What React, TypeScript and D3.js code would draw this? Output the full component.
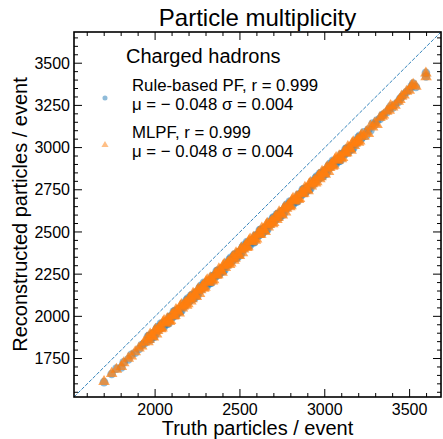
import React from "react";
import * as d3 from "d3";

// events: truth multiplicity, rule-based PF reco, MLPF reco
const truthCounts = [
  1699, 1744, 1772, 1801, 1815, 1842, 1860, 1883, 1905, 1921, 1935,
  1952, 1965, 1977, 1990, 2003, 2015, 2028, 2041, 2053, 2066, 2079, 2091, 2104, 2117, 2129, 2142, 2155, 2167, 2180, 2193,
  2205, 2218, 2231, 2243, 2256, 2269, 2281, 2294, 2307, 2319, 2332, 2345, 2357, 2370, 2383, 2395, 2408, 2421, 2433, 2446,
  2459, 2471, 2484, 2497, 2509, 2522, 2535, 2547, 2560, 2573, 2585, 2598, 2611, 2623, 2636, 2649, 2661, 2674, 2687, 2699,
  2712, 2725, 2737, 2750, 2763, 2775, 2788, 2801, 2813, 2826, 2839, 2851, 2864, 2877, 2889, 2902, 2915, 2927, 2940, 2953,
  2965, 2978, 2991, 3003, 3016, 3029, 3041, 3054, 3067, 3079, 3092, 3105, 3117, 3130, 3143, 3155, 3168, 3181, 3193, 3206,
  3219, 3231, 3244, 3257, 3269, 3282, 3295, 3308,
  3325, 3338, 3346, 3365, 3380, 3388, 3400, 3414, 3433, 3443, 3453, 3467, 3482, 3498, 3512, 3521, 3537, 3596, 3597,
  1958, 1971, 1983, 1996, 2009, 2021, 2034, 2047, 2059, 2072, 2085, 2097, 2110, 2123, 2135, 2148, 2161, 2173, 2186, 2199,
  2211, 2224, 2237, 2249, 2262, 2275, 2287, 2300, 2313, 2325, 2338, 2351, 2363, 2376, 2389, 2401, 2414, 2427, 2439, 2452,
  2465, 2477, 2490, 2503, 2515, 2528, 2541, 2553, 2566, 2579, 2591, 2604, 2617, 2629, 2642, 2655, 2667, 2680, 2693, 2705,
  2718, 2731, 2743, 2756, 2769, 2781, 2794, 2807, 2819, 2832, 2845, 2857, 2870, 2883, 2895, 2908, 2921, 2933, 2946, 2959,
  2971, 2984, 2997, 3009, 3022, 3035, 3047, 3060, 3073, 3085, 3098, 3111, 3123, 3136, 3149, 3161, 3174, 3187, 3199, 3212,
];
const pfCounts = [
  1610, 1658, 1690, 1697, 1728, 1745, 1772, 1784, 1806, 1830, 1838,
  1853, 1885, 1865, 1900, 1897, 1937, 1930, 1954, 1939, 1970, 1958, 2000, 1996, 2031, 2015, 2041, 2033, 2076, 2071, 2106,
  2094, 2126, 2107, 2141, 2138, 2179, 2171, 2195, 2181, 2211, 2199, 2241, 2237, 2272, 2257, 2282, 2273, 2318, 2312, 2347,
  2336, 2366, 2348, 2383, 2379, 2420, 2412, 2436, 2422, 2452, 2440, 2482, 2479, 2513, 2497, 2524, 2514, 2559, 2554, 2587,
  2577, 2608, 2589, 2624, 2620, 2661, 2653, 2678, 2663, 2693, 2682, 2723, 2720, 2755, 2738, 2765, 2756, 2800, 2795, 2829,
  2818, 2849, 2830, 2865, 2861, 2903, 2894, 2918, 2905, 2934, 2923, 2965, 2960, 2996, 2980, 3006, 2997, 3041, 3036, 3070,
  3059, 3090, 3071, 3107, 3102, 3143, 3136, 3160,
  3170, 3190, 3196, 3210, 3226, 3244, 3236, 3255, 3270, 3288, 3300, 3314, 3329, 3343, 3363, 3379, 3359, 3443, 3421,
  1881, 1865, 1897, 1880, 1926, 1918, 1958, 1940, 1965, 1957, 1996, 1994, 2028, 2007, 2040, 2027, 2060, 2058, 2096, 2086,
  2122, 2106, 2139, 2121, 2167, 2160, 2199, 2181, 2207, 2198, 2237, 2235, 2269, 2248, 2282, 2268, 2300, 2300, 2337, 2327,
  2364, 2346, 2380, 2363, 2408, 2401, 2440, 2422, 2448, 2439, 2478, 2476, 2511, 2489, 2522, 2510, 2541, 2541, 2579, 2567,
  2605, 2588, 2621, 2604, 2649, 2642, 2681, 2664, 2689, 2680, 2720, 2717, 2752, 2731, 2763, 2751, 2783, 2782, 2820, 2809,
  2846, 2829, 2862, 2845, 2890, 2884, 2922, 2904, 2931, 2921, 2961, 2959, 2992, 2972, 3005, 2992, 3024, 3023, 3061, 3050,
];
const mlpfCounts = [
  1613, 1661, 1686, 1702, 1724, 1750, 1764, 1789, 1812, 1823, 1846,
  1870, 1862, 1886, 1876, 1922, 1915, 1939, 1930, 1974, 1961, 1980, 1975, 2013, 2004, 2032, 2019, 2069, 2061, 2082, 2074,
  2111, 2103, 2128, 2117, 2163, 2157, 2180, 2171, 2216, 2202, 2221, 2216, 2254, 2245, 2274, 2260, 2309, 2303, 2323, 2315,
  2353, 2343, 2369, 2359, 2404, 2398, 2421, 2412, 2457, 2443, 2462, 2457, 2496, 2486, 2514, 2502, 2550, 2544, 2565, 2555,
  2594, 2585, 2610, 2600, 2645, 2639, 2662, 2654, 2698, 2684, 2704, 2698, 2737, 2728, 2755, 2743, 2792, 2785, 2806, 2797,
  2835, 2826, 2851, 2841, 2886, 2881, 2903, 2894, 2940, 2925, 2945, 2940, 2977, 2969, 2997, 2984, 3033, 3026, 3047, 3038,
  3076, 3067, 3092, 3083, 3127, 3121, 3145, 3136,
  3177, 3185, 3192, 3215, 3221, 3248, 3240, 3250, 3274, 3284, 3304, 3310, 3333, 3339, 3367, 3375, 3363, 3441, 3419,
  1849, 1895, 1881, 1911, 1894, 1930, 1925, 1965, 1958, 1986, 1968, 2006, 2001, 2040, 2029, 2059, 2048, 2072, 2065, 2102,
  2090, 2136, 2123, 2152, 2135, 2172, 2166, 2206, 2200, 2227, 2209, 2247, 2242, 2281, 2271, 2300, 2288, 2314, 2306, 2343,
  2332, 2376, 2364, 2394, 2376, 2413, 2407, 2447, 2441, 2468, 2450, 2488, 2484, 2522, 2511, 2542, 2529, 2555, 2548, 2583,
  2573, 2618, 2605, 2635, 2617, 2654, 2648, 2689, 2682, 2709, 2692, 2729, 2725, 2764, 2752, 2783, 2771, 2796, 2789, 2825,
  2814, 2859, 2846, 2876, 2858, 2896, 2889, 2929, 2924, 2950, 2933, 2971, 2965, 3005, 2994, 3024, 3012, 3037, 3030, 3066,
];

const xTicks = [2000, 2500, 3000, 3500];
const yTicks = [1750, 2000, 2250, 2500, 2750, 3000, 3250, 3500];
const axisRange = [1522, 3685];

const title = "Particle multiplicity";
const xLabel = "Truth particles / event";
const yLabel = "Reconstructed particles / event";
const legendTitle = "Charged hadrons";
const legendLines = [
  ["Rule-based PF, r = 0.999", "μ = − 0.048 σ = 0.004"],
  ["MLPF, r = 0.999", "μ = − 0.048 σ = 0.004"],
];

const BLUE = "#1f77b4";
const ORANGE = "#ff7f0e";
const FONT = "'Liberation Sans', Arial, Helvetica, sans-serif";

export default function App() {
  const W = 443, H = 439;
  const left = 74, top = 32, right = 441, bottom = 397;

  const x = d3.scaleLinear().domain(axisRange).range([left, right]);
  const y = d3.scaleLinear().domain(axisRange).range([bottom, top]);

  const xMinor = d3.range(1600, 3700, 100).filter(v => v % 500 !== 0);
  const yMinor = d3.range(1550, 3700, 50).filter(v => v % 250 !== 0);

  const circle = d3.symbol(d3.symbolCircle, 58)();
  const tri = d3.symbol(d3.symbolTriangle, 58)();
  const legCircle = d3.symbol(d3.symbolCircle, 20)();
  const legTri = d3.symbol(d3.symbolTriangle, 22)();

  const tickStroke = { stroke: "#000", strokeWidth: 1 };

  return (
    <svg width={W} height={H} style={{ position: "absolute", left: 0, top: 0, background: "#fff" }} fontFamily={FONT}>
      <defs>
        <clipPath id="plot">
          <rect x={left} y={top} width={right - left} height={bottom - top} />
        </clipPath>
      </defs>
      <rect width={W} height={H} fill="#fff" />

      <g clipPath="url(#plot)">
        <line x1={x(axisRange[0])} y1={y(axisRange[0])} x2={x(axisRange[1])} y2={y(axisRange[1])}
          stroke={BLUE} strokeWidth={1} strokeDasharray="3.7 1.6" opacity={0.9} />
        {truthCounts.map((t, i) => (
          <path key={"pf" + i} d={circle} transform={`translate(${x(t)},${y(pfCounts[i])})`} fill={BLUE} fillOpacity={0.5} />
        ))}
        {truthCounts.map((t, i) => (
          <path key={"ml" + i} d={tri} transform={`translate(${x(t)},${y(mlpfCounts[i])})`} fill={ORANGE} fillOpacity={0.7} />
        ))}
      </g>

      {/* ticks on all four sides, pointing in */}
      {xTicks.map(v => (
        <g key={"xt" + v}>
          <line x1={x(v)} x2={x(v)} y1={bottom} y2={bottom - 8} {...tickStroke} />
          <line x1={x(v)} x2={x(v)} y1={top} y2={top + 8} {...tickStroke} />
          <text x={x(v)} y={415} fontSize={16} textAnchor="middle">{v}</text>
        </g>
      ))}
      {xMinor.map(v => (
        <g key={"xm" + v}>
          <line x1={x(v)} x2={x(v)} y1={bottom} y2={bottom - 4} {...tickStroke} />
          <line x1={x(v)} x2={x(v)} y1={top} y2={top + 4} {...tickStroke} />
        </g>
      ))}
      {yTicks.map(v => (
        <g key={"yt" + v}>
          <line x1={left} x2={left + 8} y1={y(v)} y2={y(v)} {...tickStroke} />
          <line x1={right} x2={right - 8} y1={y(v)} y2={y(v)} {...tickStroke} />
          <text x={70} y={y(v)} dy="0.35em" fontSize={16} textAnchor="end">{v}</text>
        </g>
      ))}
      {yMinor.map(v => (
        <g key={"ym" + v}>
          <line x1={left} x2={left + 4} y1={y(v)} y2={y(v)} {...tickStroke} />
          <line x1={right} x2={right - 4} y1={y(v)} y2={y(v)} {...tickStroke} />
        </g>
      ))}

      <rect x={left} y={top} width={right - left} height={bottom - top} fill="none" stroke="#000" strokeWidth={1.6} />

      {/* legend */}
      <text x={126} y={63} fontSize={20}>{legendTitle}</text>
      <path d={legCircle} transform="translate(105,98)" fill={BLUE} fillOpacity={0.5} />
      <text x={132} y={91} fontSize={16.8}>{legendLines[0][0]}</text>
      <text x={132} y={110} fontSize={16.8}>{legendLines[0][1]}</text>
      <path d={legTri} transform="translate(105,145)" fill={ORANGE} fillOpacity={0.5} />
      <text x={132} y={138} fontSize={16.8}>{legendLines[1][0]}</text>
      <text x={132} y={157} fontSize={16.8}>{legendLines[1][1]}</text>

      {/* titles */}
      <text x={(left + right) / 2} y={26} fontSize={24} textAnchor="middle">{title}</text>
      <text x={(left + right) / 2} y={435} fontSize={20} textAnchor="middle">{xLabel}</text>
      <text transform={`translate(27,${(top + bottom) / 2}) rotate(-90)`} fontSize={20} textAnchor="middle">{yLabel}</text>
    </svg>
  );
}
